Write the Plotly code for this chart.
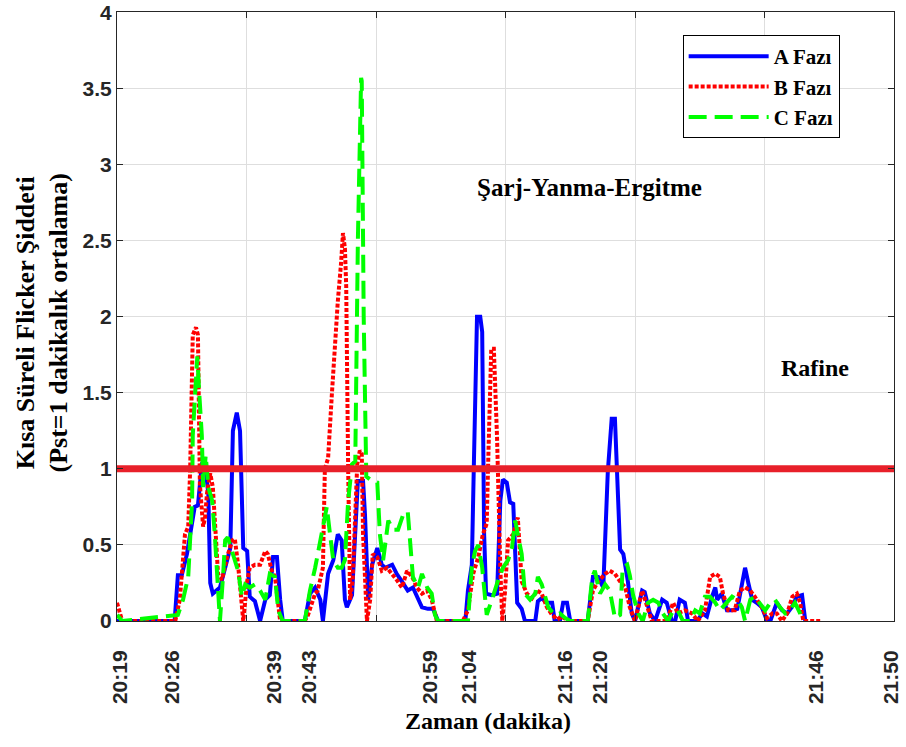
import plotly.graph_objects as go

# Sample index axis (0..120) and time labels placed along it
tick_pos = [0.5, 8.5, 24.2, 29.7, 48.3, 54.4, 69.2, 74.6, 108.0, 119.5]
tick_text = ["20:19", "20:26", "20:39", "20:43", "20:59", "21:04", "21:16", "21:20", "21:46", "21:50"]
pst_ticks = [0, 0.5, 1, 1.5, 2, 2.5, 3, 3.5, 4]

# Phase A
a_t = [0, 8.9, 9.4, 10.0, 10.8, 12.0, 12.5, 13.1, 13.6, 14.1, 14.4, 14.8, 15.9, 16.7, 17.5, 17.9,
       18.5, 19.0, 19.5, 20.1, 20.5, 21.3, 22.1, 22.9, 23.6, 24.1, 24.7, 25.2, 25.6, 29.0, 29.8,
       30.6, 31.4, 31.8, 32.6, 33.4, 34.1, 34.7, 35.2, 35.5, 36.3, 37.2, 38.0, 38.3, 38.8, 39.4,
       40.2, 40.9, 41.4, 42.5, 43.2, 44.0, 44.9, 45.7, 47.1, 48.0, 48.8, 49.6, 53.8, 54.2, 54.8,
       55.1, 55.6, 56.1, 56.4, 56.7, 57.0, 57.9, 58.7, 59.2, 59.6, 60.2, 60.7, 61.2, 61.8, 62.5,
       63.0, 64.6, 65.0, 65.6, 66.4, 67.2, 67.6, 68.4, 68.9, 69.5, 70.0, 72.7, 73.5, 74.3, 75.1,
       75.8, 76.4, 76.9, 77.4, 77.7, 78.2, 78.9, 79.5, 80.0, 81.1, 81.5, 82.3, 83.1, 84.2, 84.9,
       85.7, 86.2, 86.9, 87.7, 88.2, 89.6, 90.4, 91.1, 91.9, 92.4, 92.7, 93.4, 94.2, 95.0, 95.8,
       96.5, 97.0, 97.5, 98.1, 98.8, 99.6, 100.4, 100.9, 101.9, 102.7, 103.5, 104.2, 105.0, 105.8, 106.3]
a_pst = [0, 0, 0.30, 0.30, 0.44, 0.75, 0.76, 1.03, 1.03, 0.84, 0.25, 0.18, 0.22, 0.35, 0.48, 1.25,
         1.37, 1.25, 0.48, 0.46, 0.16, 0.13, 0.0, 0.14, 0.17, 0.42, 0.42, 0.14, 0, 0, 0.18,
         0.22, 0.14, 0, 0.31, 0.40, 0.57, 0.53, 0.14, 0.09, 0.17, 0.92, 0.92, 0.70, 0.14, 0.37,
         0.48, 0.37, 0.35, 0.37, 0.31, 0.26, 0.20, 0.22, 0.09, 0.08, 0.08, 0, 0, 0.20, 0.37,
         1.0, 2.0, 2.0, 1.9, 0.57, 0.18, 0.17, 0.18, 0.79, 0.93, 0.91, 0.78, 0.77, 0.12, 0.08,
         0, 0, 0.13, 0.15, 0.12, 0.12, 0, 0, 0.12, 0.12, 0, 0, 0.29, 0.29, 0.22,
         0.98, 1.33, 1.33, 0.78, 0.47, 0.44, 0.26, 0.05, 0, 0.20, 0.19, 0.05, 0, 0.14, 0.12,
         0, 0, 0.14, 0.12, 0, 0, 0.05, 0.03, 0.16, 0.22, 0.14, 0.18, 0.07, 0.07, 0.08,
         0.25, 0.35, 0.25, 0.14, 0.12, 0.09, 0, 0, 0.12, 0.07, 0.05, 0.09, 0.16, 0.17, 0]

# Phase B
b_t = [0, 0.8, 9.0, 9.7, 10.5, 11.0, 11.3, 11.6, 11.7, 12.2, 12.5, 12.8, 13.3, 13.6, 13.9, 14.4,
       14.8, 15.3, 15.6, 16.2, 17.0, 17.8, 18.2, 18.7, 19.3, 19.5, 20.1, 20.5, 21.3, 22.1, 22.9,
       23.3, 23.9, 24.4, 25.2, 29.0, 29.5, 30.6, 31.0, 31.8, 32.1, 32.6, 33.2, 33.7, 34.1, 34.6,
       34.9, 35.2, 35.4, 35.7, 36.0, 36.4, 37.1, 37.5, 37.8, 38.0, 38.6, 39.1, 39.5, 40.2, 40.9,
       41.7, 42.5, 43.2, 44.0, 44.8, 45.6, 46.3, 47.1, 47.9, 48.6, 49.4, 53.4, 54.2, 55.0, 55.8,
       56.5, 57.1, 57.3, 57.8, 58.2, 58.7, 59.2, 59.5, 59.9, 60.4, 61.2, 61.9, 62.5, 63.3, 64.1,
       64.9, 65.6, 66.4, 67.2, 68.0, 68.7, 69.7, 72.7, 73.5, 74.3, 75.4, 76.1, 76.9, 77.7, 78.5,
       79.2, 80.0, 81.1, 81.9, 82.6, 84.9, 85.9, 86.6, 87.7, 88.8, 89.7, 90.8, 91.6, 92.4, 93.1,
       93.6, 94.4, 95.4, 96.2, 97.0, 97.8, 98.5, 99.6, 100.4, 101.2, 101.9, 102.7, 103.5, 104.3, 105.0,
       105.5, 106.0, 108.6]
b_pst = [0.12, 0, 0, 0.14, 0.57, 0.62, 1.0, 1.55, 1.88, 1.93, 1.88, 0.90, 0.62, 0.68, 0.84, 0.97,
         0.88, 0.53, 0.31, 0.27, 0.42, 0.53, 0.54, 0.37, 0.07, 0, 0.26, 0.35, 0.37, 0.37, 0.46,
         0.44, 0.33, 0.29, 0, 0, 0.04, 0.18, 0.20, 0.35, 1.0, 1.07, 1.50, 1.88, 2.10, 2.35,
         2.55, 2.45, 2.20, 1.0, 0.14, 0.27, 1.03, 1.12, 1.10, 0.57, 0, 0.14, 0.44, 0.42, 0.33,
         0.35, 0.31, 0.27, 0.22, 0.33, 0.29, 0.22, 0.18, 0.20, 0.14, 0, 0, 0.07, 0.31, 0.42,
         0.57, 0.64, 1.0, 1.79, 1.79, 1.20, 0.35, 0, 0.18, 0.53, 0.57, 0.68, 0.26, 0.18, 0.15,
         0.20, 0.18, 0.09, 0.04, 0.01, 0.03, 0, 0, 0.20, 0.26, 0.31, 0.33, 0.31, 0.26, 0.22,
         0.09, 0, 0.20, 0.09, 0, 0, 0.12, 0.05, 0.07, 0.05, 0, 0.07, 0.29, 0.31, 0.29,
         0.18, 0.07, 0.07, 0.20, 0.22, 0.20, 0.16, 0.09, 0.02, 0.05, 0.05, 0, 0.05, 0.16, 0.18,
         0.12, 0, 0]

# Phase C
c_t = [0, 0.8, 9.4, 10.2, 11.0, 11.6, 11.7, 12.2, 12.4, 12.7, 13.1, 13.3, 13.7, 14.1, 14.7, 15.1,
       15.4, 15.9, 16.4, 16.7, 17.1, 17.9, 18.7, 19.3, 19.8, 20.5, 21.3, 22.1, 22.9, 23.6, 24.4,
       24.9, 25.6, 29.0, 29.8, 30.6, 31.0, 31.7, 32.4, 32.9, 33.4, 34.1, 34.7, 35.2, 35.7, 36.3,
       36.8, 37.2, 37.7, 37.8, 38.1, 38.5, 39.4, 40.2, 40.6, 41.1, 41.9, 42.6, 43.4, 44.2, 44.9,
       45.3, 45.7, 46.5, 47.1, 47.9, 48.6, 49.1, 49.6, 54.2, 54.8, 55.3, 55.8, 56.4, 56.7, 57.1,
       57.9, 58.4, 58.8, 59.6, 60.4, 61.0, 61.5, 61.9, 62.5, 63.0, 63.8, 64.6, 65.0, 65.6, 66.1,
       66.6, 67.6, 68.4, 69.2, 70.0, 72.7, 73.4, 73.8, 74.6, 75.4, 76.1, 76.9, 77.7, 78.1, 78.8,
       79.2, 79.7, 80.5, 81.2, 82.0, 82.8, 83.6, 84.3, 85.1, 85.9, 86.6, 87.4, 88.5, 89.3, 90.0,
       90.8, 91.6, 92.4, 93.1, 94.2, 95.0, 95.8, 96.5, 97.0, 97.8, 98.5, 99.3, 100.1, 100.9, 101.6,
       102.4, 103.2, 103.9, 104.7, 105.5, 106.0]
c_pst = [0.04, 0, 0.04, 0.14, 0.29, 0.79, 1.22, 1.59, 1.74, 1.50, 1.22, 0.88, 1.09, 0.88, 0.79, 0.57,
         0.35, 0, 0.31, 0.53, 0.55, 0.44, 0.33, 0.16, 0.24, 0.22, 0.24, 0.20, 0.14, 0.31, 0.29,
         0.07, 0, 0, 0.20, 0.35, 0.44, 0.57, 0.75, 0.57, 0.40, 0.35, 0.35, 0.40, 0.79, 1.03,
         1.05, 2.50, 3.57, 3.55, 2.00, 0.95, 0.92, 0.91, 0.57, 0.40, 0.66, 0.60, 0.60, 0.70, 0.72,
         0.46, 0.29, 0.22, 0.31, 0.22, 0.18, 0.04, 0, 0, 0.35, 0.46, 0.50, 0.35, 0.18, 0.04,
         0.14, 0.22, 0.26, 0.35, 0.40, 0.48, 0.66, 0.57, 0.44, 0.18, 0.14, 0.18, 0.29, 0.24, 0.16,
         0.09, 0.04, 0.05, 0.02, 0, 0, 0.29, 0.33, 0.18, 0.24, 0.20, 0.02, 0.04, 0.35, 0.37,
         0.30, 0.17, 0.05, 0, 0.12, 0.14, 0.12, 0.05, 0, 0.07, 0.07, 0, 0, 0.07, 0.05,
         0.16, 0.16, 0.12, 0.07, 0.12, 0.16, 0.14, 0.09, 0, 0.14, 0.16, 0.12, 0.07, 0.12, 0.14,
         0.09, 0.05, 0.07, 0.12, 0.05, 0]

# Pst = 1 limit
limit_t = [0, 120]
limit_pst = [1, 1]

AX = "#262626"
SERIF = "Liberation Serif"
SANS = "Liberation Sans"

fig = go.Figure()
fig.add_trace(go.Scatter(x=a_t, y=a_pst, mode="lines", name="A Fazı",
                         line=dict(color="#0000ff", width=4)))
fig.add_trace(go.Scatter(x=b_t, y=b_pst, mode="lines", name="B Fazı",
                         line=dict(color="#ff0000", width=4, dash="4px,2px")))
fig.add_trace(go.Scatter(x=c_t, y=c_pst, mode="lines", name="C Fazı",
                         line=dict(color="#00ff00", width=4, dash="18px,8px")))
fig.add_trace(go.Scatter(x=limit_t, y=limit_pst, mode="lines", xaxis="x2", showlegend=False,
                         line=dict(color="#e8202a", width=7)))

fig.update_layout(
    width=906, height=747,
    margin=dict(l=117, r=12, t=12, b=126, autoexpand=False),
    paper_bgcolor="white", plot_bgcolor="white",
    showlegend=True,
    xaxis=dict(range=[0, 120], tickvals=tick_pos, ticktext=tick_text, tickangle=-90,
               showgrid=False, zeroline=False, ticks="", showline=True, linecolor=AX,
               ticklabelstandoff=20, automargin=False,
               tickfont=dict(family=SANS, size=21, color=AX, weight="bold")),
    xaxis2=dict(range=[0, 120], overlaying="x", side="top", dtick=20, showgrid=True,
                gridcolor="#dedede", gridwidth=1, zeroline=False, showticklabels=False,
                ticks="inside", ticklen=6, tickcolor=AX, showline=True, linecolor=AX,
                mirror="ticks", automargin=False),
    yaxis=dict(range=[0, 4.003], tickvals=pst_ticks, showgrid=True, gridcolor="#dedede",
               gridwidth=1, zeroline=False, ticks="inside", ticklen=6, tickcolor=AX,
               showline=True, linecolor=AX, mirror="ticks", ticklabeloverflow="allow",
               automargin=False,
               tickfont=dict(family=SANS, size=21, color=AX, weight="bold")),
    legend=dict(x=0.728, y=0.962, xanchor="left", yanchor="top", bgcolor="white",
                bordercolor="black", borderwidth=1, itemwidth=80, tracegroupgap=0,
                entrywidth=132, entrywidthmode="pixels",
                font=dict(family=SERIF, size=21, color="black", weight="bold")),
    annotations=[
        dict(text="Zaman (dakika)", x=0.477, y=-0.165, xref="paper", yref="paper",
             xanchor="center", yanchor="middle", showarrow=False,
             font=dict(family=SERIF, size=24, color="black", weight="bold")),
        dict(text="Kısa Süreli Flicker Şiddeti<br>(Pst=1 dakikalık ortalama)",
             x=-0.0965, y=0.4886, xref="paper", yref="paper", textangle=-90,
             xanchor="center", yanchor="middle", showarrow=False,
             font=dict(family=SERIF, size=26, color="black", weight="bold")),
        dict(text="Şarj-Yanma-Ergitme", x=73.0, y=2.85, xref="x", yref="y", showarrow=False,
             font=dict(family=SERIF, size=25, color="black", weight="bold")),
        dict(text="Rafine", x=107.8, y=1.66, xref="x", yref="y", showarrow=False,
             font=dict(family=SERIF, size=24, color="black", weight="bold")),
    ],
)

fig.write_html("out.html")
